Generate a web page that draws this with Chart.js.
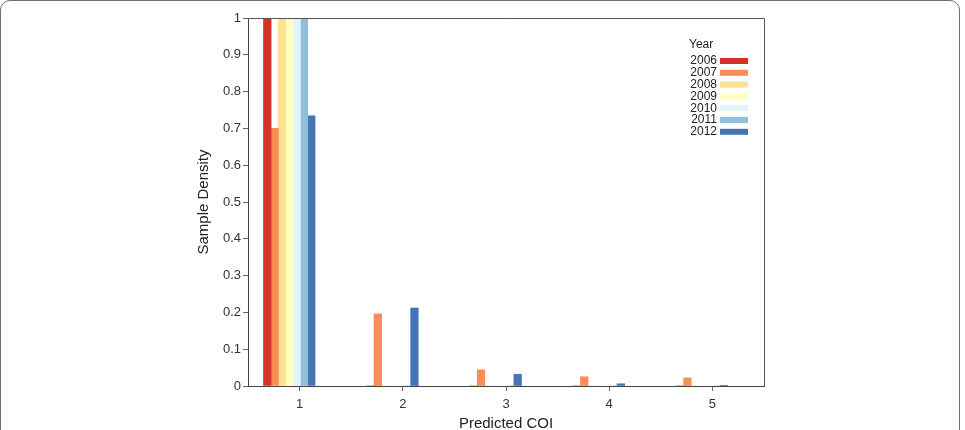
<!DOCTYPE html>
<html>
<head>
<meta charset="utf-8">
<script src="https://cdn.jsdelivr.net/npm/chart.js@4.4.0/dist/chart.umd.min.js"></script>
<style>
  html, body { margin: 0; padding: 0; background: #fff; overflow: hidden; width: 965px; height: 430px; }
  #frame {
    position: absolute; left: 0; top: 0; width: 958px; height: 520px;
    border: 1.5px solid #6e6e6e; border-radius: 10px;
  }
  #chart { position: absolute; left: 0; top: 0; }
</style>
</head>
<body>
<div id="frame"></div>
<canvas id="chart" width="965" height="436"></canvas>
<script>
// data
var cois = [1, 2, 3, 4, 5]
var years = ['2006', '2007', '2008', '2009', '2010', '2011', '2012']
var colors = ['#d73027', '#fc8d59', '#fee090', '#ffffbf', '#e0f3f8', '#91bfdb', '#4575b4']
var d2006 = [1, 0, 0, 0, 0]
var d2007 = [0.70, 0.196, 0.044, 0.025, 0.022]
var d2008 = [1, 0, 0, 0, 0]
var d2009 = [1, 0, 0, 0, 0]
var d2010 = [1, 0, 0, 0, 0]
var d2011 = [1, 0, 0, 0, 0]
var d2012 = [0.734, 0.212, 0.032, 0.006, 0.002]
var series = [d2006, d2007, d2008, d2009, d2010, d2011, d2012]
var yTicks = [0, 0.1, 0.2, 0.3, 0.4, 0.5, 0.6, 0.7, 0.8, 0.9, 1]

var fontFam = "'Liberation Sans', Arial, sans-serif"

//bars of one year sit side by side, the group a bit left of the tick
function yearShift(i) {
  return (i - 3) * 0.071 - 0.1
}

var datasets = series.map(function(vals, i) {
  return {
    label: years[i],
    backgroundColor: colors[i],
    borderWidth: 0,
    grouped: false,
    barThickness: 7.6,
    data: vals.map(function(v, k) { return { x: cois[k] + yearShift(i), y: v } })
  }
})

//box round the plot, top and right side
var boxPlugin = {
  id: 'box',
  afterDraw: function(chart) {
    var a = chart.chartArea, ctx = chart.ctx
    ctx.save()
    ctx.strokeStyle = '#555'
    ctx.lineWidth = 1
    ctx.beginPath()
    ctx.moveTo(a.left, a.top + 0.5)
    ctx.lineTo(a.right + 0.5, a.top + 0.5)
    ctx.lineTo(a.right + 0.5, a.bottom)
    ctx.stroke()
    ctx.restore()
  }
}

//legend: title, labels right aligned, swatch to the right
var yearLegend = {
  id: 'yearLegend',
  afterDraw: function(chart) {
    var ctx = chart.ctx
    ctx.save()
    ctx.font = '12px ' + fontFam
    ctx.fillStyle = '#222'
    ctx.textBaseline = 'middle'
    ctx.textAlign = 'left'
    ctx.fillText('Year', 689, 45)
    ctx.textAlign = 'right'
    chart.data.datasets.forEach(function(ds, i) {
      var y = 61 + i * 11.8
      ctx.fillStyle = '#222'
      ctx.fillText(ds.label, 717, y)
      ctx.fillStyle = ds.backgroundColor
      ctx.fillRect(720, y - 3, 28, 6)
    })
    ctx.restore()
  }
}

new Chart(document.getElementById('chart'), {
  type: 'bar',
  data: { datasets: datasets },
  options: {
    responsive: false,
    animation: false,
    layout: { padding: { left: 190, right: 201, top: 18, bottom: 0 } },
    plugins: { legend: { display: false }, tooltip: { enabled: false } },
    scales: {
      x: {
        type: 'linear',
        min: 0.5,
        max: 5.5,
        offset: false,
        afterBuildTicks: function(scale) {
          scale.ticks = cois.map(function(v) { return { value: v } })
        },
        afterFit: function(scale) { scale.height = 50 },
        grid: { display: true, drawOnChartArea: false, offset: false, tickLength: 5, color: '#666' },
        border: { color: '#444', width: 1 },
        ticks: { padding: 6, color: '#333', font: { size: 13, family: fontFam } },
        title: {
          display: true, text: 'Predicted COI', color: '#222',
          font: { size: 15, family: fontFam }, padding: { top: 0, bottom: 3 }
        }
      },
      y: {
        min: 0,
        max: 1,
        afterBuildTicks: function(scale) {
          scale.ticks = yTicks.map(function(v) { return { value: v } })
        },
        afterFit: function(scale) { scale.width = 58 },
        grid: { display: true, drawOnChartArea: false, tickLength: 5, color: '#666' },
        border: { color: '#444', width: 1 },
        ticks: {
          padding: 2, color: '#333', font: { size: 13, family: fontFam },
          callback: function(v) { return String(Number(v.toFixed(1))) }
        },
        title: {
          display: true, text: 'Sample Density', color: '#222',
          font: { size: 15, family: fontFam }, padding: { top: 5, bottom: 0 }
        }
      }
    }
  },
  plugins: [boxPlugin, yearLegend]
})
</script>
</body>
</html>
